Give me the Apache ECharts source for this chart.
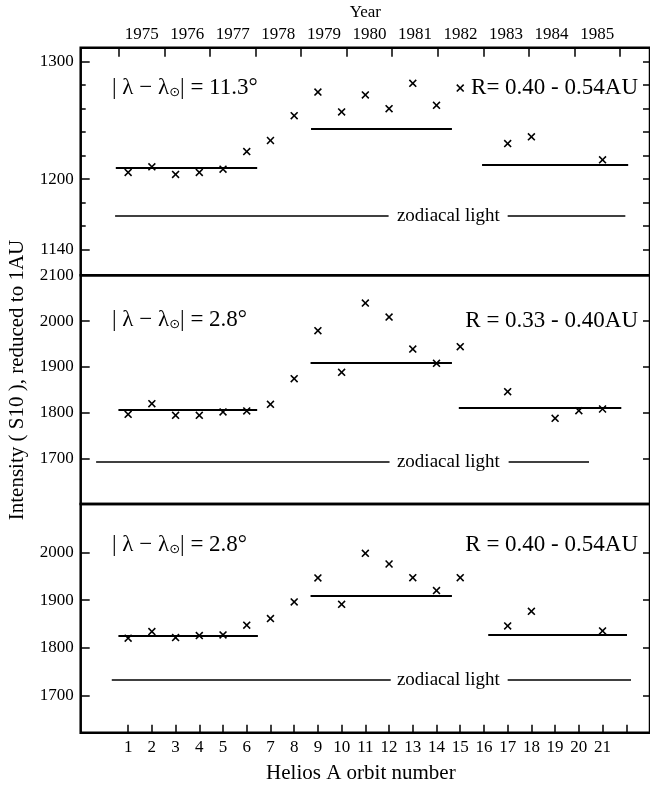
<!DOCTYPE html>
<html>
<head>
<meta charset="utf-8">
<script src="https://cdn.jsdelivr.net/npm/echarts@6/dist/echarts.min.js"></script>
<style>
  html, body { margin: 0; padding: 0; background: #fff; }
  #chart { width: 650px; height: 787px; }
</style>
</head>
<body>
<div id="chart"></div>
<script>
// Helios A photometer, channel S10, intensity reduced to 1 AU, per orbit

// Panel 1: |λ − λ⊙| = 11.3°, R = 0.40 - 0.54 AU
const orbitsA = [1, 2, 3, 4, 5, 6, 7, 8, 9, 10, 11, 12, 13, 14, 15, 17, 18, 21];
const intensityA = [1205.7, 1210.5, 1204, 1205.7, 1208.5, 1223.5, 1232.9, 1254.1, 1274.2, 1257.2,
                    1271.7, 1260, 1281.6, 1262.9, 1277.6, 1230.3, 1236, 1216.4];
// mean levels: [first orbit, last orbit, level]
const meanA = [[0.48, 6.44, 1210], [8.71, 14.65, 1242.5], [15.92, 22.08, 1212.2]];
const zodiA = 1168.6;
const zodiSegA = [[0.45, 11.98], [17.0, 21.96]];

// Panel 2: |λ − λ⊙| = 2.8°, R = 0.33 - 0.40 AU
const orbitsB = [1, 2, 3, 4, 5, 6, 7, 8, 9, 10, 11, 12, 13, 14, 15, 17, 19, 20, 21];
const intensityB = [1796, 1819.4, 1793.9, 1793.9, 1801.2, 1803.4, 1817.9, 1874, 1978.9, 1887.8,
                    2039.3, 2008.7, 1938.8, 1907.5, 1943.9, 1845.6, 1787.3, 1804.1, 1807.7];
const meanB = [[0.59, 6.44, 1806.3], [8.69, 14.65, 1909], [14.94, 21.79, 1811.4]];
const zodiB = 1692.6;
const zodiSegB = [[-0.35, 12.02], [17.04, 20.43]];

// Panel 3: |λ − λ⊙| = 2.8°, R = 0.40 - 0.54 AU
const orbitsC = [1, 2, 3, 4, 5, 6, 7, 8, 9, 10, 11, 12, 13, 14, 15, 17, 18, 21];
const intensityC = [1820.5, 1834.4, 1821.8, 1826, 1827.4, 1847.6, 1861.5, 1896.3, 1946.4, 1891.4,
                    1997.9, 1975.6, 1947.1, 1920, 1947.1, 1846.2, 1876.8, 1835.8];
const meanC = [[0.59, 6.47, 1826], [8.69, 14.65, 1909.5], [16.18, 22.03, 1828]];
const zodiC = 1732.8;
const zodiSegC = [[0.31, 12.07], [17.0, 22.2]];

// axis ticks and labels
const orbitTicks = [1, 2, 3, 4, 5, 6, 7, 8, 9, 10, 11, 12, 13, 14, 15, 16, 17, 18, 19, 20, 21, 22];
const orbitLabels = [1, 2, 3, 4, 5, 6, 7, 8, 9, 10, 11, 12, 13, 14, 15, 16, 17, 18, 19, 20, 21];
const yearTicks = [1975, 1976, 1977, 1978, 1979, 1980, 1981, 1982, 1983, 1984, 1985, 1986];
const yearLabels = [1975, 1976, 1977, 1978, 1979, 1980, 1981, 1982, 1983, 1984, 1985];
const ticksA = [1140, 1160, 1180, 1200, 1220, 1240, 1260, 1280, 1300];
const majorA = [1140, 1200, 1300];
const ticksB = [1700, 1800, 1900, 2000];
const labelsB = [1700, 1800, 1900, 2000, 2100];
const ticksC = [1700, 1800, 1900, 2000];
const labelsC = [1700, 1800, 1900, 2000];

const FONT = 'Liberation Serif';
const BLACK = '#000';
const CROSS = 'path://M0,1.4L1.4,0L5,3.6L8.6,0L10,1.4L6.4,5L10,8.6L8.6,10L5,6.4L1.4,10L0,8.6L3.6,5Z';

const panels = [
  { orbits: orbitsA, values: intensityA, means: meanA, zodi: zodiA, zodiSeg: zodiSegA,
    min: 1118, max: 1312, minor: ticksA, major: majorA, labels: majorA, right: ticksA,
    top: 47.7, height: 227.6 },
  { orbits: orbitsB, values: intensityB, means: meanB, zodi: zodiB, zodiSeg: zodiSegB,
    min: 1600, max: 2100, minor: [], major: ticksB, labels: labelsB, right: ticksB,
    top: 275.3, height: 228.7 },
  { orbits: orbitsC, values: intensityC, means: meanC, zodi: zodiC, zodiSeg: zodiSegC,
    min: 1623, max: 2101, minor: [], major: ticksC, labels: labelsC, right: ticksC,
    top: 504, height: 228.7 }
];

const tickStyle = { color: BLACK, width: 1.5 };
const labelFont = { fontFamily: FONT, fontSize: 17, color: BLACK };
const plain = v => String(v);

const grid = panels.map(p => ({
  left: 80.7, width: 571, top: p.top, height: p.height,
  show: true, borderColor: BLACK, borderWidth: 2.5, backgroundColor: 'transparent'
}));

const xAxis = panels.map((p, i) => ({
  gridIndex: i, type: 'value', min: -1, max: 23, position: 'bottom',
  axisLine: { show: false, onZero: false },
  splitLine: { show: false },
  axisTick: i === 2
    ? { show: true, inside: true, length: 8, lineStyle: tickStyle, customValues: orbitTicks }
    : { show: false },
  axisLabel: i === 2
    ? Object.assign({ show: true, margin: 6, customValues: orbitLabels, formatter: plain }, labelFont)
    : { show: false },
  name: i === 2 ? 'Helios A orbit number' : '',
  nameLocation: 'middle', nameGap: 30,
  nameTextStyle: { fontFamily: FONT, fontSize: 21, color: BLACK, padding: [0, 9, 0, 0] }
}));

// calendar years along the top of the first panel
xAxis.push({
  gridIndex: 0, type: 'value', position: 'top', min: 1974.16, max: 1986.66,
  axisLine: { show: false, onZero: false },
  splitLine: { show: false },
  axisTick: { show: true, inside: true, length: 9, lineStyle: tickStyle, customValues: yearTicks },
  axisLabel: Object.assign({
    show: true, margin: 5,
    customValues: yearLabels.map(y => y + 0.5),
    formatter: v => String(Math.floor(v))
  }, labelFont),
  name: 'Year', nameLocation: 'middle', nameGap: 27,
  nameTextStyle: { fontFamily: FONT, fontSize: 17, color: BLACK }
});

const yAxis = [];
panels.forEach((p, i) => {
  const base = {
    gridIndex: i, type: 'value', min: p.min, max: p.max,
    axisLine: { show: false, onZero: false }, splitLine: { show: false }
  };
  yAxis.push(Object.assign({}, base, {
    position: 'left',
    axisTick: { show: p.minor.length > 0, inside: true, length: 5, lineStyle: tickStyle, customValues: p.minor.length ? p.minor : [p.min] },
    axisLabel: { show: false }
  }));
  yAxis.push(Object.assign({}, base, {
    position: 'left',
    axisTick: { show: true, inside: true, length: 9, lineStyle: tickStyle, customValues: p.major },
    axisLabel: Object.assign({ show: true, margin: 7, customValues: p.labels, formatter: plain }, labelFont)
  }));
  yAxis.push(Object.assign({}, base, {
    position: 'right',
    axisTick: { show: true, inside: true, length: 7, lineStyle: tickStyle, customValues: p.right },
    axisLabel: { show: false }
  }));
});

const series = [];
panels.forEach((p, i) => {
  series.push({
    type: 'scatter', xAxisIndex: i, yAxisIndex: i * 3,
    symbol: CROSS, symbolSize: 8,
    itemStyle: { color: BLACK, opacity: 1 },
    data: p.orbits.map((o, k) => [o, p.values[k]]),
    markLine: {
      silent: true, symbol: 'none', animation: false,
      label: { show: false },
      lineStyle: { color: BLACK, width: 2, type: 'solid', opacity: 1 },
      data: p.means.map(m => [{ coord: [m[0], m[2]] }, { coord: [m[1], m[2]] }])
    }
  });
  series.push({
    type: 'scatter', xAxisIndex: i, yAxisIndex: i * 3,
    symbol: 'circle', symbolSize: 1,
    itemStyle: { color: 'rgba(0,0,0,0)', opacity: 1 },
    label: { show: true, position: 'inside', formatter: 'zodiacal light',
             fontFamily: FONT, fontSize: 19, color: BLACK, opacity: 1,
             textBorderWidth: 0 },
    data: [[14.5, p.zodi]],
    markLine: {
      silent: true, symbol: 'none', animation: false,
      label: { show: false },
      lineStyle: { color: BLACK, width: 1.5, type: 'solid', opacity: 1 },
      data: p.zodiSeg.map(s => [{ coord: [s[0], p.zodi] }, { coord: [s[1], p.zodi] }])
    }
  });
});

const lambdaRich = {
  s: { fontFamily: 'DejaVu Sans', fontSize: 13, verticalAlign: 'bottom', padding: [9, 0, 0, 0], fill: BLACK }
};
function lambdaText(y, deg) {
  return {
    type: 'text', x: 112, y: y,
    style: {
      text: '| λ − λ{s|⊙}| = ' + deg + '°',
      font: '23px "' + FONT + '"', fill: BLACK,
      align: 'left', verticalAlign: 'middle', rich: lambdaRich
    }
  };
}
function rangeText(y, txt) {
  return {
    type: 'text', x: 638, y: y,
    style: { text: txt, font: '23px "' + FONT + '"', fill: BLACK, align: 'right', verticalAlign: 'middle' }
  };
}

const graphic = [
  {
    type: 'text', x: 17, y: 380, rotation: Math.PI / 2,
    style: {
      text: 'Intensity ( S10 ), reduced to 1AU',
      font: '21px "' + FONT + '"', fill: BLACK, align: 'center', verticalAlign: 'middle'
    }
  },
  lambdaText(88, '11.3'),
  rangeText(88, 'R= 0.40 - 0.54AU'),
  lambdaText(320, '2.8'),
  rangeText(321, 'R = 0.33 - 0.40AU'),
  lambdaText(545, '2.8'),
  rangeText(545, 'R = 0.40 - 0.54AU')
];

const chart = echarts.init(document.getElementById('chart'), null, { renderer: 'canvas' });
chart.setOption({
  animation: false,
  backgroundColor: '#fff',
  grid: grid,
  xAxis: xAxis,
  yAxis: yAxis,
  series: series,
  graphic: graphic
});
</script>
</body>
</html>
